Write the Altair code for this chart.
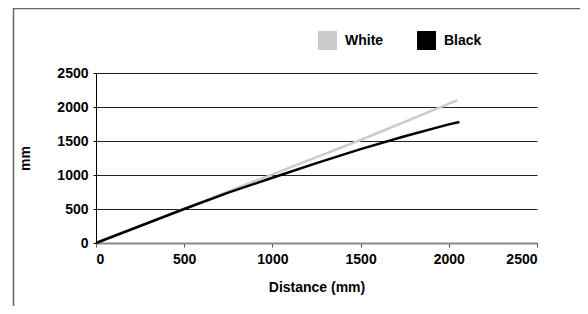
import altair as alt
import pandas as pd

series = ["White", "Black"]
white_x = [0, 500, 1000, 1500, 2050]
white_y = [0, 505, 1010, 1515, 2100]
black_x = [0, 250, 500, 750, 1000, 1250, 1500, 1750, 2000, 2060]
black_y = [0, 250, 500, 740, 960, 1175, 1380, 1570, 1745, 1780]
x_ticks = [0, 500, 1000, 1500, 2000, 2500]
y_ticks = [0, 500, 1000, 1500, 2000, 2500]

rows = []
for i, (xv, yv) in enumerate(zip(white_x, white_y)):
    rows.append({"series": "White", "x": xv, "y": yv, "o": i})
for i, (xv, yv) in enumerate(zip(black_x, black_y)):
    rows.append({"series": "Black", "x": xv, "y": yv, "o": i})
df = pd.DataFrame(rows)

FONT = "Liberation Sans"
color_scale = alt.Scale(domain=series, range=["#cccccc", "#000000"])

x_enc = alt.X("x:Q", scale=alt.Scale(domain=[0, 2500], nice=False),
              axis=alt.Axis(values=x_ticks, format="d", title="Distance (mm)", grid=False,
                            domainColor="#888888", domainWidth=2,
                            tickColor="#555555", tickSize=4, tickWidth=1,
                            labelPadding=5, titlePadding=14))
y_enc = alt.Y("y:Q", scale=alt.Scale(domain=[0, 2500], nice=False),
              axis=alt.Axis(values=y_ticks, format="d", title="mm", grid=True,
                            gridColor="#222222", gridWidth=1, gridOpacity=1,
                            domainColor="#000000", domainWidth=1,
                            tickColor="#000000", tickSize=3,
                            labelPadding=5, titlePadding=24))

keys = alt.Chart(df).mark_point(filled=True, shape="square", size=0, opacity=0).encode(
    x=x_enc, y=y_enc,
    color=alt.Color("series:N", scale=color_scale,
                    legend=alt.Legend(title=None, orient="none", direction="horizontal",
                                      legendX=222, legendY=-42, symbolType="square",
                                      symbolSize=360, symbolStrokeWidth=0, symbolOpacity=1,
                                      labelFontSize=14, labelFont=FONT, labelFontWeight="bold",
                                      labelOffset=8, columnPadding=33)),
)

lines = alt.Chart(df).mark_line(strokeWidth=2.5).encode(
    x=x_enc, y=y_enc,
    color=alt.Color("series:N", scale=color_scale, legend=None),
    order="o:Q",
)

frame = alt.Chart(pd.DataFrame({"a": [0]})).mark_rect(fill=None, stroke="#666666", strokeWidth=1.5).encode(
    x=alt.value(-82.5), x2=alt.value(486), y=alt.value(-64.5), y2=alt.value(270)
)
shadow = alt.Chart(pd.DataFrame({"a": [0]})).mark_rule(stroke="#000000", strokeWidth=2).encode(
    x=alt.value(487), y=alt.value(-62), y2=alt.value(270)
)

chart = alt.layer(frame, shadow, keys, lines).properties(
    width=441, height=170,
    autosize=alt.AutoSizeParams(type="none"),
    padding={"left": 88, "top": 65, "right": 43, "bottom": 63},
).configure_view(stroke=None).configure_axis(
    labelFont=FONT, titleFont=FONT, labelFontSize=14, titleFontSize=14,
    labelFontWeight="bold", titleFontWeight="bold", labelColor="#000000", titleColor="#000000",
)

chart.save("out.html", embed_options={"renderer": "svg", "actions": False})
